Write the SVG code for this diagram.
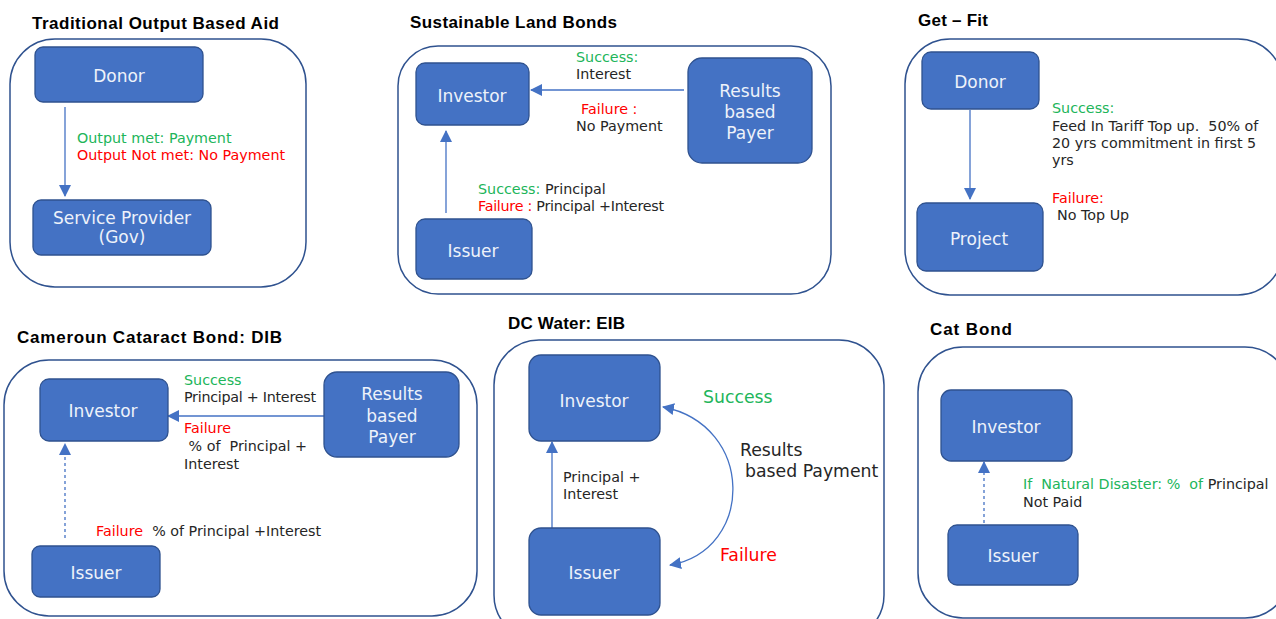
<svg xmlns="http://www.w3.org/2000/svg" width="1276" height="619" viewBox="0 0 1276 619">
<defs>
<marker id="ah" markerUnits="userSpaceOnUse" markerWidth="12" markerHeight="12" viewBox="0 0 12 12" refX="11" refY="6" orient="auto-start-reverse">
<path d="M0,0 L12,6 L0,12 Z" fill="#4472C4"/>
</marker>
</defs>
<style>
.frame{fill:none;stroke:#2F528F;stroke-width:1.5}
.box{fill:#4472C4;stroke:#2F528F;stroke-width:1.3}
.bl{font-family:"DejaVu Sans","Liberation Sans",sans-serif;font-size:17px;fill:#EEF2FA;text-anchor:middle}
.t{font-family:"DejaVu Sans","Liberation Sans",sans-serif;font-size:14.3px;fill:#262626}
.big{font-size:17.3px}
.g{fill:#21B55A}
.r{fill:#FF0000}
.title{font-family:"Liberation Sans","DejaVu Sans",sans-serif;font-weight:bold;font-size:17px;fill:#000}
.c{fill:none;stroke:#4472C4;stroke-width:1.3}
.d{stroke-dasharray:3,3}
</style>

<!-- Panel frames and titles -->
<g id="panel1">
<text class="title" x="32" y="29" textLength="247">Traditional Output Based Aid</text>
<rect class="frame" x="10" y="39" width="296" height="248" rx="45"/>
</g>
<g id="panel2">
<text class="title" x="410" y="28" textLength="207">Sustainable Land Bonds</text>
<rect class="frame" x="398" y="46" width="433" height="248" rx="40"/>
</g>
<g id="panel3">
<text class="title" x="918" y="26" textLength="70">Get – Fit</text>
<rect class="frame" x="905" y="39" width="378" height="256" rx="45"/>
</g>
<g id="panel4">
<text class="title" x="17" y="343" textLength="265">Cameroun Cataract Bond: DIB</text>
<rect class="frame" x="4" y="360" width="473" height="256" rx="45"/>
</g>
<g id="panel5">
<text class="title" x="508" y="329" textLength="117">DC Water: EIB</text>
<rect class="frame" x="494" y="340" width="390" height="300" rx="45"/>
</g>
<g id="panel6">
<text class="title" x="930" y="335" textLength="82">Cat Bond</text>
<rect class="frame" x="918" y="347" width="372" height="271" rx="45"/>
</g>

<!-- Connectors -->
<g id="connectors">
<line class="c" x1="65" y1="107" x2="65" y2="196" marker-end="url(#ah)"/>
<line class="c" x1="684" y1="90" x2="531" y2="90" marker-end="url(#ah)"/>
<line class="c" x1="446" y1="213" x2="446" y2="131" marker-end="url(#ah)"/>
<line class="c" x1="970" y1="110" x2="970" y2="199" marker-end="url(#ah)"/>
<line class="c" x1="324" y1="416" x2="168" y2="416" marker-end="url(#ah)"/>
<line class="c d" x1="65" y1="538" x2="65" y2="444" marker-end="url(#ah)"/>
<line class="c" x1="552" y1="528" x2="552" y2="442" marker-end="url(#ah)"/>
<path class="c" d="M663,407 C755,425 755,550 670,565" marker-start="url(#ah)" marker-end="url(#ah)"/>
<line class="c d" x1="984" y1="523" x2="984" y2="462" marker-end="url(#ah)"/>
</g>

<!-- Panel 1 nodes -->
<g id="p1-donor"><rect class="box" x="35" y="47" width="168" height="55" rx="8"/><text class="bl" x="119" y="82">Donor</text></g>
<g id="p1-provider"><rect class="box" x="33" y="200" width="178" height="55" rx="8"/><text class="bl" x="122" y="224">Service Provider</text><text class="bl" x="122" y="243">(Gov)</text></g>
<g id="p1-labels">
<text class="t g" x="77" y="143">Output met: Payment</text>
<text class="t r" x="77" y="160">Output Not met: No Payment</text>
</g>

<!-- Panel 2 nodes -->
<g id="p2-investor"><rect class="box" x="416" y="63" width="113" height="62" rx="9"/><text class="bl" x="472" y="102">Investor</text></g>
<g id="p2-payer"><rect class="box" x="688" y="58" width="124" height="105" rx="14"/><text class="bl" x="750" y="97">Results</text><text class="bl" x="750" y="118">based</text><text class="bl" x="750" y="139">Payer</text></g>
<g id="p2-issuer"><rect class="box" x="416" y="219" width="116" height="60" rx="9"/><text class="bl" x="473" y="257">Issuer</text></g>
<g id="p2-labels">
<text class="t g" x="576" y="62">Success:</text>
<text class="t" x="576" y="79">Interest</text>
<text class="t r" x="581" y="114">Failure :</text>
<text class="t" x="576" y="131">No Payment</text>
<text class="t" x="478" y="194"><tspan class="g">Success:</tspan> Principal</text>
<text class="t" x="478" y="211" textLength="186"><tspan class="r">Failure :</tspan> Principal +Interest</text>
</g>

<!-- Panel 3 nodes -->
<g id="p3-donor"><rect class="box" x="922" y="52" width="117" height="57" rx="9"/><text class="bl" x="980" y="88">Donor</text></g>
<g id="p3-project"><rect class="box" x="917" y="203" width="126" height="68" rx="9"/><text class="bl" x="979" y="245">Project</text></g>
<g id="p3-labels">
<text class="t g" x="1052" y="113">Success:</text>
<text class="t" x="1052" y="131" xml:space="preserve">Feed In Tariff Top up.  50% of</text>
<text class="t" x="1052" y="148">20 yrs commitment in first 5</text>
<text class="t" x="1052" y="165">yrs</text>
<text class="t r" x="1052" y="203">Failure:</text>
<text class="t" x="1057" y="220">No Top Up</text>
</g>

<!-- Panel 4 nodes -->
<g id="p4-investor"><rect class="box" x="40" y="379" width="128" height="62" rx="9"/><text class="bl" x="103" y="417">Investor</text></g>
<g id="p4-payer"><rect class="box" x="324" y="372" width="135" height="85" rx="13"/><text class="bl" x="392" y="400">Results</text><text class="bl" x="392" y="422">based</text><text class="bl" x="392" y="443">Payer</text></g>
<g id="p4-issuer"><rect class="box" x="32" y="546" width="128" height="51" rx="8"/><text class="bl" x="96" y="579">Issuer</text></g>
<g id="p4-labels">
<text class="t g" x="184" y="385">Success</text>
<text class="t" x="184" y="402" textLength="132">Principal + Interest</text>
<text class="t r" x="184" y="433">Failure</text>
<text class="t" x="184" y="451" xml:space="preserve"> % of  Principal +</text>
<text class="t" x="184" y="469">Interest</text>
<text class="t" x="96" y="536" xml:space="preserve"><tspan class="r">Failure</tspan>  % of Principal +Interest</text>
</g>

<!-- Panel 5 nodes -->
<g id="p5-investor"><rect class="box" x="529" y="355" width="131" height="86" rx="12"/><text class="bl" x="594" y="407">Investor</text></g>
<g id="p5-issuer"><rect class="box" x="529" y="528" width="131" height="87" rx="12"/><text class="bl" x="594" y="579">Issuer</text></g>
<g id="p5-labels">
<text class="t g big" x="703" y="403">Success</text>
<text class="t big" x="740" y="456">Results</text>
<text class="t big" x="745" y="477">based Payment</text>
<text class="t r big" x="720" y="561">Failure</text>
<text class="t" x="563" y="482">Principal +</text>
<text class="t" x="563" y="499">Interest</text>
</g>

<!-- Panel 6 nodes -->
<g id="p6-investor"><rect class="box" x="941" y="390" width="131" height="71" rx="10"/><text class="bl" x="1006" y="433">Investor</text></g>
<g id="p6-issuer"><rect class="box" x="948" y="525" width="130" height="60" rx="9"/><text class="bl" x="1013" y="562">Issuer</text></g>
<g id="p6-labels">
<text class="t" x="1023" y="489" xml:space="preserve"><tspan class="g">If  Natural Disaster: %  of </tspan>Principal</text>
<text class="t" x="1023" y="507">Not Paid</text>
</g>
</svg>
